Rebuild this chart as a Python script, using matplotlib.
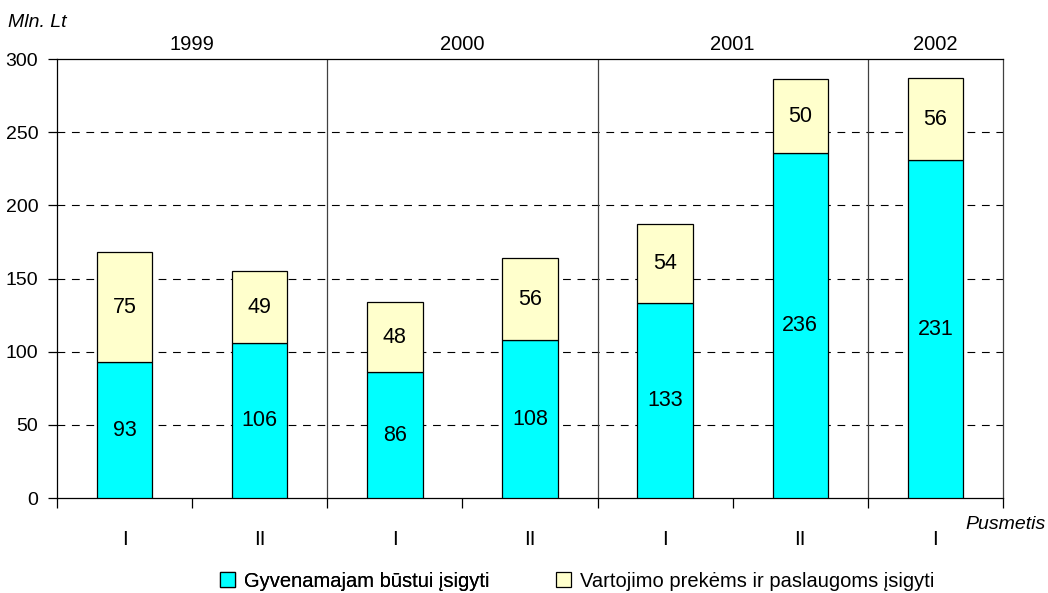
import numpy as np
import matplotlib.pyplot as plt
from matplotlib.patches import Patch

plt.rcParams['font.family'] = ['Liberation Sans', 'DejaVu Sans']

# duomenys
pusmeciai = ['I', 'II', 'I', 'II', 'I', 'II', 'I']
metai = ['1999', '2000', '2001', '2002']
metu_centrai = [0.5, 2.5, 4.5, 6.0]
bustas = [93, 106, 86, 108, 133, 236, 231]
vartojimas = [75, 49, 48, 56, 54, 50, 56]
skyrikliai = [1.5, 3.5, 5.5]
serijos = ['Gyvenamajam būstui įsigyti', 'Vartojimo prekėms ir paslaugoms įsigyti']
spalvos = ['#00FFFF', '#FFFFCC']

fig = plt.figure(figsize=(10.48, 5.93), dpi=100)
ax = fig.add_axes([0.0544, 0.160, 0.9026, 0.7405])

x = np.arange(len(pusmeciai))
w = 0.41
ax.bar(x, bustas, w, color=spalvos[0], edgecolor='black', linewidth=0.9, zorder=3)
ax.bar(x, vartojimas, w, bottom=bustas, color=spalvos[1], edgecolor='black',
       linewidth=0.9, zorder=3)

for i in range(len(x)):
    ax.text(x[i], bustas[i] / 2, str(bustas[i]), ha='center', va='center',
            fontsize=15.5, zorder=4)
    ax.text(x[i], bustas[i] + vartojimas[i] / 2, str(vartojimas[i]), ha='center',
            va='center', fontsize=15.5, zorder=4)

ax.set_xlim(-0.5, 6.5)
ax.set_ylim(0, 300)
ax.set_yticks(range(0, 301, 50))
for yv in range(50, 300, 50):
    ax.axhline(yv, color='black', linestyle=(0, (7, 6)), linewidth=0.8, zorder=1)
for s in skyrikliai:
    ax.axvline(s, color='#404040', linewidth=0.9, zorder=2)

ax.set_xticks(x)
ax.set_xticklabels(pusmeciai)
ax.tick_params(axis='x', which='major', length=0, pad=23, labelsize=15)
ax.set_xticks(np.arange(-0.5, 7, 1), minor=True)
ax.tick_params(axis='x', which='minor', length=7, direction='out', width=0.9)
ax.tick_params(axis='y', length=6.5, width=0.9, labelsize=14, pad=7)

for sp in ax.spines.values():
    sp.set_linewidth(0.9)
ax.spines['right'].set_color('#404040')

for m, c in zip(metai, metu_centrai):
    ax.text(c, 1.032, m, ha='center', va='center', fontsize=14.5,
            transform=ax.get_xaxis_transform())

fig.text(0.008, 0.962, 'Mln. Lt', fontsize=14, style='italic', ha='left', va='center')
fig.text(0.998, 0.115, 'Pusmetis', fontsize=14, style='italic', ha='right', va='center')

# legenda - du atskiri elementai
lg1 = fig.legend(handles=[Patch(facecolor=spalvos[0], edgecolor='black', linewidth=0.9)],
                 labels=[serijos[0]], loc='center left', bbox_to_anchor=(0.2095, 0.020),
                 frameon=False, fontsize=14.5, handlelength=0.75, handleheight=0.75,
                 handletextpad=0.45, borderaxespad=0, borderpad=0)
fig.legend(handles=[Patch(facecolor=spalvos[1], edgecolor='black', linewidth=0.9)],
           labels=[serijos[1]], loc='center left', bbox_to_anchor=(0.5305, 0.020),
           frameon=False, fontsize=14.5, handlelength=0.75, handleheight=0.75,
           handletextpad=0.45, borderaxespad=0, borderpad=0)
fig.add_artist(lg1)

fig.savefig('out.png', dpi=100)
